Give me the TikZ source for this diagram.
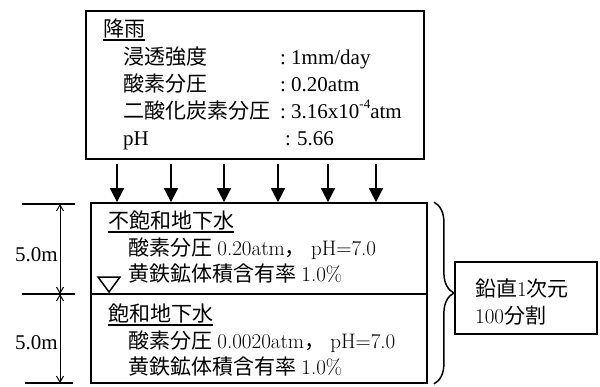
\documentclass[tikz,border=0pt]{standalone}
\usepackage{fontspec}
\setmainfont{Liberation Serif}
\newfontfamily\jp{Noto Sans CJK JP}
\newfontfamily\lmr{Latin Modern Roman}
\usetikzlibrary{arrows.meta,decorations.pathreplacing}
\begin{document}
\begin{tikzpicture}[x=1pt,y=-1pt,
  box/.style={draw,line width=1.8pt,inner sep=0pt},
  txt/.style={anchor=base west,inner sep=0pt,font=\fontsize{21}{25}\selectfont},
  rain/.style={line width=1.8pt,-{Triangle[length=14pt,width=14pt]}},
  dimline/.style={line width=1pt,{Straight Barb[length=6pt,width=7pt]}-{Straight Barb[length=6pt,width=7pt]}},
  tickline/.style={line width=1.8pt},
  uline/.style={line width=1.2pt}]
\useasboundingbox (0,0) rectangle (600,386);
% top box
\node[box,minimum width=338pt,minimum height=148pt] (top) at (255,85) {};
\node[txt] (t0) at (103,36) {\jp 降雨};
\draw[uline] ([yshift=-4pt]t0.base west) -- ([yshift=-4pt]t0.base east);
\node[txt] (t1) at (123,64) {\jp 浸透強度};
\node[txt] (c1) at (280,64) {:};
\node[txt] (v1) at (291,64) {1mm/day};
\node[txt] (t2) at (123,91) {\jp 酸素分圧};
\node[txt] (c2) at (280,91) {:};
\node[txt] (v2) at (291,91) {0.20atm};
\node[txt] (t3) at (123,118) {\jp 二酸化炭素分圧};
\node[txt] (c3) at (280,118) {:};
\node[txt] (v3) at (291,118) {3.16x10\raisebox{0.45em}{\fontsize{13}{13}\selectfont -4}atm};
\node[txt] (t4) at (123,145) {pH};
\node[txt] (c4) at (285,145) {:};
\node[txt] (v4) at (297,145) {5.66};
% lower boxes
\node[box,minimum width=336pt,minimum height=91pt] (uns) at (259,248.5) {};
\node[box,minimum width=336pt,minimum height=89pt] (sat) at (259,338.5) {};
\node[txt] (u0) at (108,228) {\jp 不飽和地下水};
\draw[uline] ([yshift=-4pt]u0.base west) -- ([yshift=-4pt]u0.base east);
\node[txt] (u1) at (128,255) {{\jp 酸素分圧}~{\lmr 0.20atm}{\jp ，}~{\lmr pH=7.0}};
\node[txt] (u2) at (128,281) {{\jp 黄鉄鉱体積含有率}~{\lmr 1.0\%}};
\node[txt] (s0) at (108,321) {\jp 飽和地下水};
\draw[uline] ([yshift=-4pt]s0.base west) -- ([yshift=-4pt]s0.base east);
\node[txt] (s1) at (128,348) {{\jp 酸素分圧}~{\lmr 0.0020atm}{\jp ，}~{\lmr pH=7.0}};
\node[txt] (s2) at (128,374) {{\jp 黄鉄鉱体積含有率}~{\lmr 1.0\%}};
% water table marker
\draw[line width=1.5pt,line join=miter] (98,277) -- (120,277) -- (109,292) -- cycle;
% rain arrows
\foreach \x in {117,171,224,278,328,376}
  \draw[rain] (top.south -| \x,0) ++(0,4) -- (uns.north -| \x,0);
% brace and right box
\path (uns.north east) ++(6,0) coordinate (b1);
\path (sat.south east) ++(6,0) coordinate (b2);
\draw[line width=1.5pt,decorate,decoration={brace,amplitude=20pt}] (b1) -- (b2);
\node[box,minimum width=142pt,minimum height=72pt] (grid) at (526,298) {};
\node[txt] (g1) at (475,296) {{\jp 鉛直}{\lmr 1}{\jp 次元}};
\node[txt] (g2) at (475,323) {{\lmr 100}{\jp 分割}};
% dimension lines
\coordinate (d1) at (60,204);
\coordinate (d2) at (60,294);
\coordinate (d3) at (60,383);
\draw[tickline] (22,204) -- (75,204);
\draw[tickline] (22,294) -- (75,294);
\draw[tickline] (25,383) -- (73,383);
\draw[dimline] (d1) -- (d2);
\draw[dimline] (d2) -- (d3);
\node[txt] (l1) at (15,261) {5.0m};
\node[txt] (l2) at (15,349) {5.0m};
\end{tikzpicture}
\end{document}
